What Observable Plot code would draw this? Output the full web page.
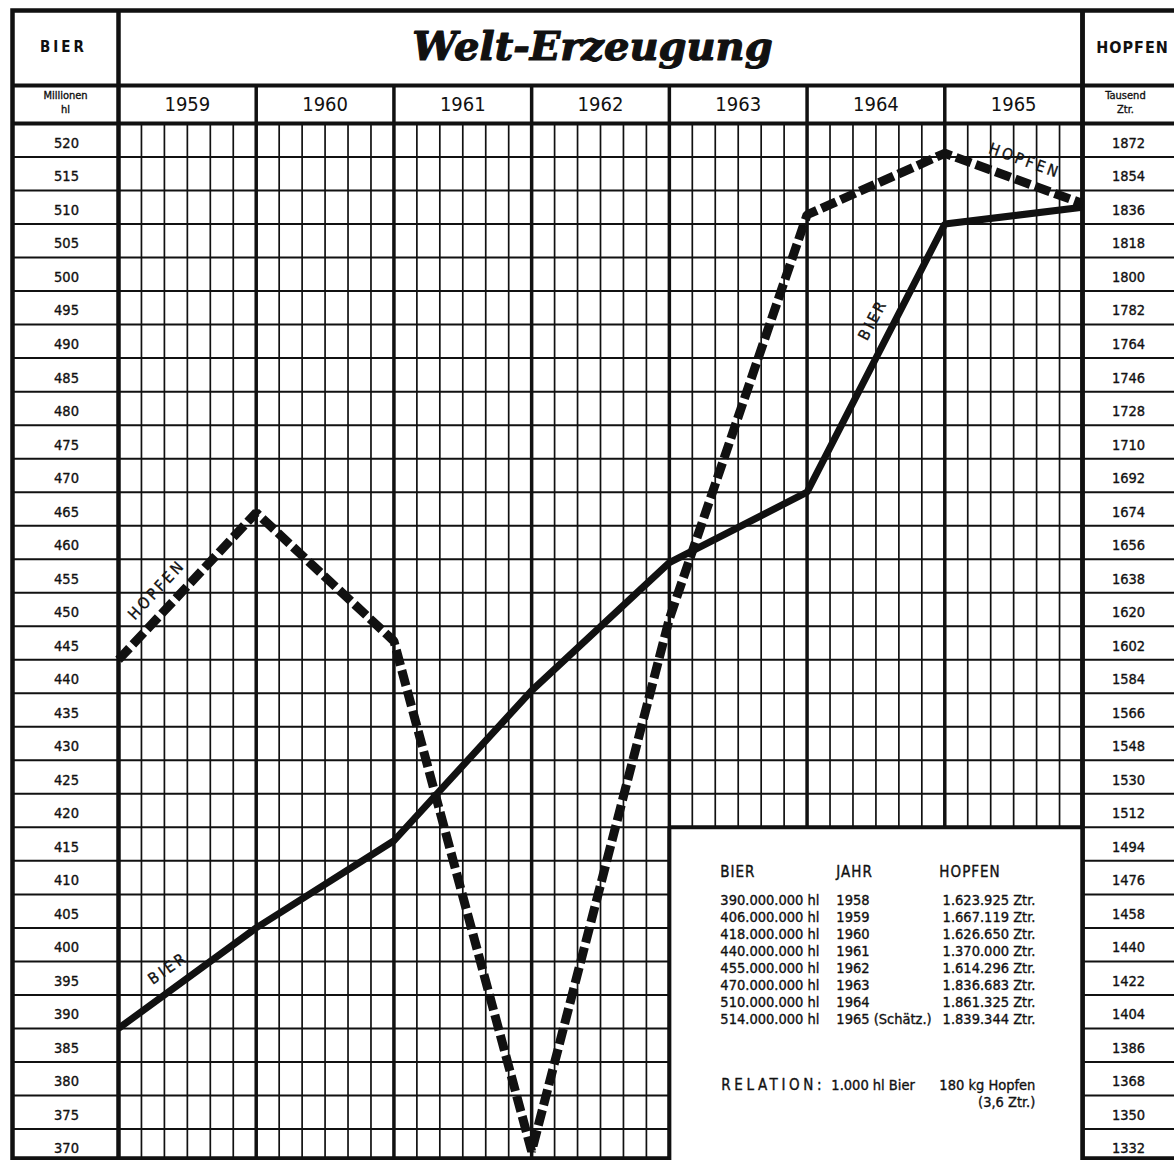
<!DOCTYPE html>
<html><head><meta charset="utf-8">
<script src="https://cdn.jsdelivr.net/npm/d3@7"></script>
<script src="https://cdn.jsdelivr.net/npm/@observablehq/plot@0.6"></script>
<style>
body{margin:0;background:#fff;}
#chart svg{display:block;}
#chart text[aria-label="tracked-1"]{letter-spacing:1px;}
#chart text[aria-label="tracked-2"]{letter-spacing:2px;}
#chart text[aria-label="tracked-3"]{letter-spacing:3px;}
#chart text[aria-label="tracked-4"]{letter-spacing:3.6px;}
</style></head><body><div id="chart"></div>
<script>
// ---- data ----
const dataYears   = [1958, 1959, 1960, 1961, 1962, 1963, 1964, 1965];
const bierValues  = [390, 405, 418, 440.4, 459.5, 470, 510, 512.5];        // Mio hl
const hopfenValues = [1602, 1681, 1612, 1338, 1624, 1841, 1874, 1847];     // Tsd Ztr.
const columnYears = [1959, 1960, 1961, 1962, 1963, 1964, 1965];
const bierTicks = [520,515,510,505,500,495,490,485,480,475,470,465,460,455,450,445,440,435,430,425,420,415,410,405,400,395,390,385,380,375,370];
const hopfenTicks = [1872,1854,1836,1818,1800,1782,1764,1746,1728,1710,1692,1674,1656,1638,1620,1602,1584,1566,1548,1530,1512,1494,1476,1458,1440,1422,1404,1386,1368,1350,1332];
const relation = 3.6; // 1 Mio hl Bier  <->  3,6 Tsd Ztr. Hopfen

const tableBier = ["390.000.000 hl","406.000.000 hl","418.000.000 hl","440.000.000 hl","455.000.000 hl","470.000.000 hl","510.000.000 hl","514.000.000 hl"];
const tableJahr = ["1958","1959","1960","1961","1962","1963","1964","1965 (Schätz.)"];
const tableHopfen = ["1.623.925 Ztr.","1.667.119 Ztr.","1.626.650 Ztr.","1.370.000 Ztr.","1.614.296 Ztr.","1.836.683 Ztr.","1.861.325 Ztr.","1.839.344 Ztr."];

// ---- derived tables ----
const bier = dataYears.map((y, i) => ({t: y + 1, v: bierValues[i]}));           // value at end of year
const hopfen = dataYears.map((y, i) => ({t: y + 1, v: hopfenValues[i] / relation}));
const colStart = columnYears[0], colEnd = columnYears[columnYears.length - 1] + 1;
const subTicks = columnYears.flatMap(y => [1,2,3,4,5].map(k => y + k / 6));
const innerBounds = columnYears.slice(1);
const topValue = bierTicks[0] + 5;
const bottomValue = 370.3;
const boxLeft = 1963, boxTop = 420;

const F = '"DejaVu Sans Condensed","Liberation Sans Narrow","DejaVu Sans",sans-serif';
const INK = "#111";
const heavy = {fill: INK, stroke: INK, strokeWidth: 0.35};
const tracked = n => ({ariaLabel: () => "tracked-" + n});
const lerp = (a, b, f) => [{t: a.t + (b.t - a.t) * f, v: a.v + (b.v - a.v) * f}];
const lineLabel = (pts, i, f, text, rotate, dx, dy) =>
  Plot.text(lerp(pts[i], pts[i + 1], f), {x: "t", y: "v", text: () => text, rotate, dx, dy,
    fontSize: 15.5, ...heavy, ...tracked(3)});
const boxText = (txt, dx, dy, opts = {}) =>
  Plot.text([txt], {x: boxLeft, y: boxTop, dx, dy, textAnchor: "start", lineAnchor: "middle", fontSize: 14.5, ...heavy, ...opts});

const chart = Plot.plot({
  width: 1174, height: 1160,
  marginLeft: 118, marginRight: 92, marginTop: 123, marginBottom: 0,
  x: {domain: [colStart, colEnd], axis: null},
  y: {domain: [bottomValue, topValue], axis: null},
  style: {background: "#fff", fontFamily: F, color: INK, overflow: "visible"},
  marks: [
    // fine grid
    Plot.ruleX(subTicks, {stroke: INK, strokeWidth: 1.7}),
    Plot.ruleY(bierTicks, {stroke: INK, strokeWidth: 2, insetLeft: -106, insetRight: -100}),
    // year columns (extend into year header row)
    Plot.ruleX(innerBounds, {stroke: INK, strokeWidth: 3.5, insetTop: -38}),
    // header separators
    Plot.ruleY([topValue], {stroke: INK, strokeWidth: 4, insetLeft: -106, insetRight: -100}),
    Plot.ruleY([topValue], {stroke: INK, strokeWidth: 4, dy: -38, insetLeft: -106, insetRight: -100}),
    Plot.ruleX([colStart, colEnd], {stroke: INK, strokeWidth: 4.5, insetTop: -113}),
    Plot.frame({stroke: INK, strokeWidth: 4.5, insetTop: -113, insetLeft: -106, insetRight: -110, insetBottom: 2}),

    // header text
    Plot.text(["Welt-Erzeugung"], {frameAnchor: "top", lineAnchor: "middle", dx: -8, dy: -76, fontFamily: '"DejaVu Serif",serif', fontWeight: "bold", fontStyle: "italic", fontSize: 40, fill: INK, stroke: INK, strokeWidth: 1.2}),
    Plot.text(["BIER"], {frameAnchor: "top-left", textAnchor: "middle", lineAnchor: "middle", dx: -55, dy: -76, fontWeight: "bold", fontSize: 15, fill: INK, ...tracked(3)}),
    Plot.text(["HOPFEN"], {frameAnchor: "top-right", textAnchor: "middle", lineAnchor: "middle", dx: 50, dy: -76, fontWeight: "bold", fontSize: 16, fill: INK, ...tracked(1)}),
    Plot.text(["Millionen"], {frameAnchor: "top-left", textAnchor: "middle", lineAnchor: "middle", dx: -53, dy: -28, fontSize: 11, ...heavy}),
    Plot.text(["hl"], {frameAnchor: "top-left", textAnchor: "middle", lineAnchor: "middle", dx: -53, dy: -14, fontSize: 11, ...heavy}),
    Plot.text(["Tausend"], {frameAnchor: "top-right", textAnchor: "middle", lineAnchor: "middle", dx: 43, dy: -28, fontSize: 11, ...heavy}),
    Plot.text(["Ztr."], {frameAnchor: "top-right", textAnchor: "middle", lineAnchor: "middle", dx: 43, dy: -14, fontSize: 11, ...heavy}),
    Plot.text(columnYears, {x: d => d + 0.5, text: d => String(d), frameAnchor: "top", lineAnchor: "middle", dy: -19, fontSize: 20, fill: INK}),

    // side scales
    Plot.text(bierTicks, {y: d => d + 2.5, text: d => String(d), frameAnchor: "left", textAnchor: "middle", dx: -52, dy: 3, fontSize: 14.5, ...heavy}),
    Plot.text(hopfenTicks, {y: d => d / relation + 2.5, text: d => String(d), frameAnchor: "right", textAnchor: "middle", dx: 46, dy: 3, fontSize: 14.5, ...heavy}),

    // table box
    Plot.rect([0], {x1: boxLeft, x2: colEnd, y1: bottomValue, y2: boxTop, fill: "#fff"}),
    Plot.ruleX([boxLeft], {y1: bottomValue, y2: boxTop, stroke: INK, strokeWidth: 4}),
    Plot.ruleY([boxTop], {x1: boxLeft, x2: colEnd, stroke: INK, strokeWidth: 4}),
    Plot.ruleX([colEnd], {stroke: INK, strokeWidth: 4.5, insetTop: -113}),
    boxText("BIER", 51, 45, {fontSize: 15, ...tracked(1)}),
    boxText("JAHR", 167, 45, {fontSize: 15, ...tracked(1)}),
    boxText("HOPFEN", 270, 45, {fontSize: 15, ...tracked(1)}),
    boxText(tableBier.join("\n"), 51, 66, {lineAnchor: "top", lineHeight: 17 / 14.5}),
    boxText(tableJahr.join("\n"), 167, 66, {lineAnchor: "top", lineHeight: 17 / 14.5}),
    boxText(tableHopfen.join("\n"), 366, 66, {lineAnchor: "top", lineHeight: 17 / 14.5, textAnchor: "end"}),
    boxText("RELATION:", 52, 258, {fontSize: 15, ...tracked(4)}),
    boxText("1.000 hl Bier", 162, 258),
    boxText("180 kg Hopfen", 366, 258, {textAnchor: "end"}),
    boxText("(3,6 Ztr.)", 366, 275, {textAnchor: "end"}),

    // data lines
    Plot.line(bier, {x: "t", y: "v", stroke: INK, strokeWidth: 7, strokeLinejoin: "miter", strokeLinecap: "butt"}),
    Plot.line(hopfen, {x: "t", y: "v", stroke: INK, strokeWidth: 9, strokeDasharray: "16,5", strokeLinejoin: "miter", strokeLinecap: "butt"}),

    // line labels
    lineLabel(hopfen, 0, 0.38, "HOPFEN", -47, -14, -14),
    lineLabel(hopfen, 6, 0.53, "HOPFEN", 20, 7, -19),
    lineLabel(bier, 0, 0.44, "BIER", -35, -11, -16),
    lineLabel(bier, 5, 0.61, "BIER", -62, -18, -9)
  ]
});
document.getElementById("chart").appendChild(chart);
</script>
</body></html>
